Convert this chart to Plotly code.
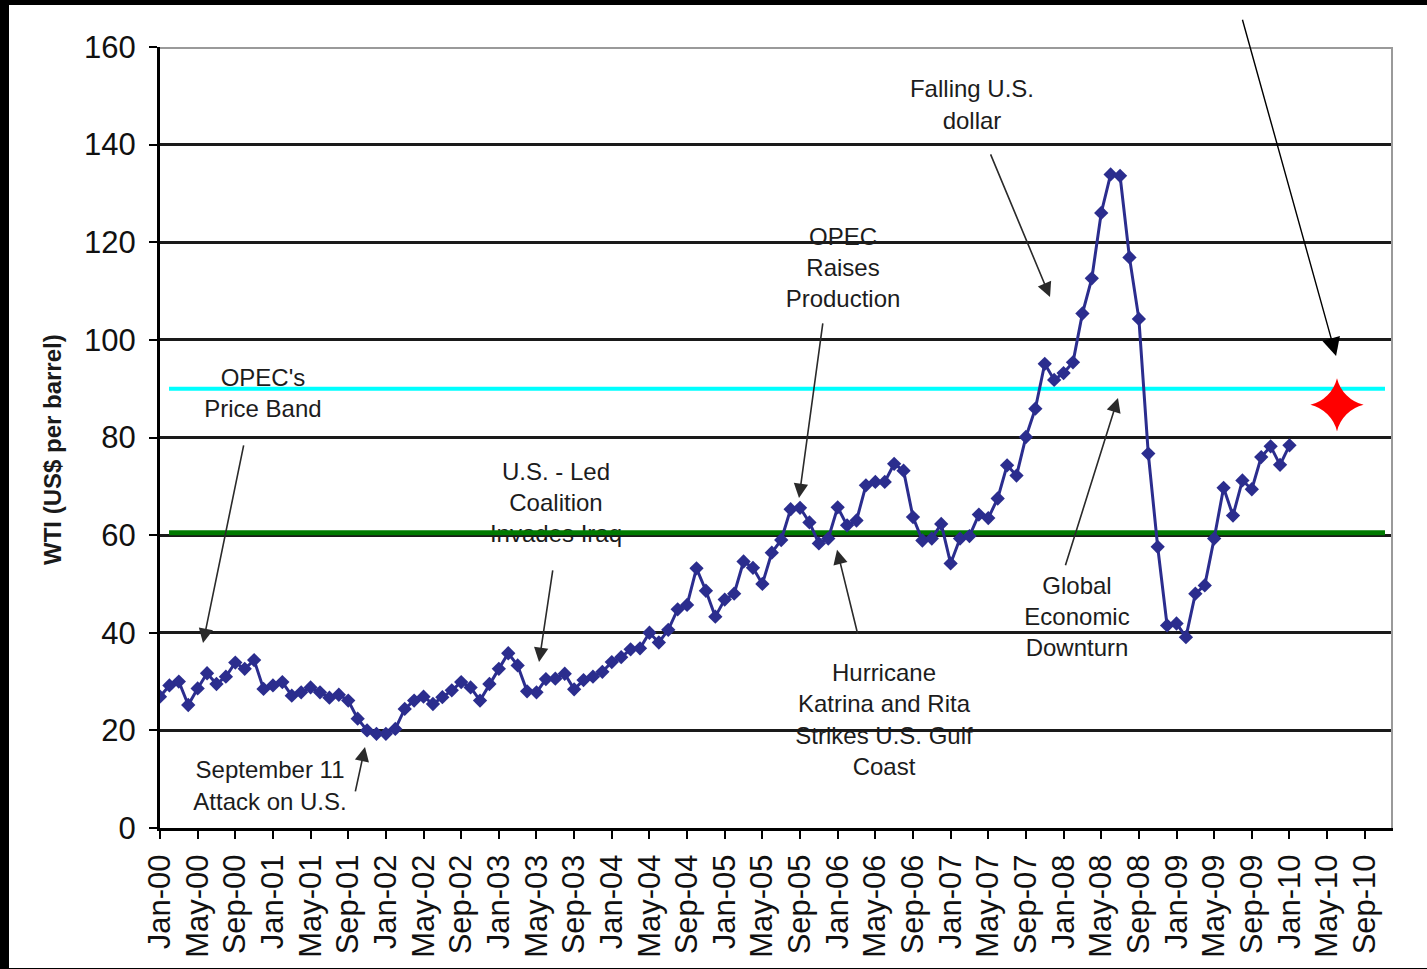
import plotly.graph_objects as go

# Monthly WTI spot price, US$ per barrel (Jan-2000 .. Jan-2010)
wti_2000 = [26.9, 29.2, 30.0, 25.2, 28.6, 31.7, 29.5, 31.0, 33.9, 32.6, 34.4, 28.5]
wti_2001 = [29.2, 29.9, 27.1, 27.8, 28.8, 27.8, 26.7, 27.3, 26.1, 22.4, 20.0, 19.3]
wti_2002 = [19.3, 20.3, 24.4, 26.1, 26.9, 25.4, 26.8, 28.2, 29.9, 28.8, 26.1, 29.5]
wti_2003 = [32.6, 35.8, 33.3, 28.0, 27.8, 30.5, 30.6, 31.6, 28.4, 30.3, 31.0, 32.0]
wti_2004 = [34.0, 35.0, 36.6, 36.8, 40.0, 38.0, 40.6, 44.8, 45.7, 53.2, 48.6, 43.3]
wti_2005 = [46.8, 48.0, 54.6, 53.3, 50.0, 56.4, 59.0, 65.3, 65.6, 62.6, 58.3, 59.3]
wti_2006 = [65.7, 62.0, 63.0, 70.2, 70.9, 70.9, 74.6, 73.2, 63.7, 58.9, 59.3, 62.3]
wti_2007 = [54.2, 59.3, 59.8, 64.2, 63.5, 67.5, 74.3, 72.2, 80.1, 85.9, 95.1, 91.8]
wti_2008 = [93.2, 95.4, 105.4, 112.6, 126.0, 133.9, 133.6, 116.9, 104.3, 76.7, 57.6, 41.5]
wti_2009 = [41.9, 39.1, 48.0, 49.7, 59.3, 69.7, 64.0, 71.2, 69.4, 76.0, 78.2, 74.4]
wti_2010 = [78.4]

prices = (wti_2000 + wti_2001 + wti_2002 + wti_2003 + wti_2004 + wti_2005
          + wti_2006 + wti_2007 + wti_2008 + wti_2009 + wti_2010)
months = list(range(len(prices)))  # month index, 0 = Jan-00

tick_labels = [
    "Jan-00", "May-00", "Sep-00", "Jan-01", "May-01", "Sep-01",
    "Jan-02", "May-02", "Sep-02", "Jan-03", "May-03", "Sep-03",
    "Jan-04", "May-04", "Sep-04", "Jan-05", "May-05", "Sep-05",
    "Jan-06", "May-06", "Sep-06", "Jan-07", "May-07", "Sep-07",
    "Jan-08", "May-08", "Sep-08", "Jan-09", "May-09", "Sep-09",
    "Jan-10", "May-10", "Sep-10",
]
tick_positions = [4 * k for k in range(len(tick_labels))]

# OPEC price band limits
band_upper = 90.0
band_lower = 60.5

# Event labels (month index, price) and their arrows (tail -> head)
event_text = [
    "OPEC's<br>Price Band",
    "U.S. - Led<br>Coalition<br>Invades Iraq",
    "September 11<br>Attack on U.S.",
    "OPEC<br>Raises<br>Production",
    "Hurricane<br>Katrina and Rita<br>Strikes U.S. Gulf<br>Coast",
    "Falling U.S.<br>dollar",
    "Global<br>Economic<br>Downturn",
]
event_x = [10.94, 42.07, 11.69, 72.57, 76.92, 86.27, 97.43]
event_y = [88.6, 66.2, 8.2, 114.3, 21.7, 147.7, 42.8]

arrow_tail_x = [8.92, 41.75, 20.72, 70.44, 74.16, 88.18, 96.15]
arrow_tail_y = [78.7, 53.1, 7.2, 103.7, 39.5, 138.3, 53.5]
arrow_head_x = [4.57, 40.27, 21.78, 67.89, 71.93, 94.56, 101.78]
arrow_head_y = [37.9, 34.0, 16.6, 67.6, 57.0, 108.8, 88.1]

# Forecast marker and its pointer
target_x = [125.05]
target_y = [86.7]
pointer_tail = (114.96, 165.9)
pointer_head = (124.95, 96.7)

X_MAX = 131
Y_MAX = 160

W, H = 1427, 969
ML, MR, MT, MB = 160, 34, 47, 141
PW, PH = W - ML - MR, H - MT - MB

FONT = "Liberation Sans, Arial, sans-serif"
NAVY = "#2B2D8E"


def paper_x(px):
    return (px - ML) / PW


def paper_y(py):
    return (H - MB - py) / PH


fig = go.Figure()

# event labels (drawn first so the band lines pass over them)
fig.add_trace(go.Scatter(
    x=event_x, y=event_y, mode="text", text=event_text,
    textposition="middle center",
    textfont=dict(family=FONT, size=24, color="#1c1c1c"),
    hoverinfo="skip", showlegend=False,
))

# price band lines
band_x = [0.96, 130.15]
fig.add_trace(go.Scatter(
    x=band_x, y=[band_upper, band_upper], mode="lines",
    line=dict(color="#00FFFF", width=4), hoverinfo="skip", showlegend=False,
))
fig.add_trace(go.Scatter(
    x=band_x, y=[band_lower, band_lower], mode="lines",
    line=dict(color="#007A00", width=5), hoverinfo="skip", showlegend=False,
))

# WTI price series
fig.add_trace(go.Scatter(
    x=months, y=prices, mode="lines+markers",
    line=dict(color=NAVY, width=3),
    marker=dict(symbol="diamond", size=11, color=NAVY),
    showlegend=False,
))

# forecast star
fig.add_trace(go.Scatter(
    x=target_x, y=target_y, mode="markers",
    marker=dict(symbol="star-diamond", size=38, color="#FF0000",
                line=dict(width=0)),
    hoverinfo="skip", showlegend=False, cliponaxis=False,
))

annotations = []
for tx, ty, hx, hy in zip(arrow_tail_x, arrow_tail_y, arrow_head_x, arrow_head_y):
    annotations.append(dict(
        x=hx, y=hy, ax=tx, ay=ty, xref="x", yref="y", axref="x", ayref="y",
        text="", showarrow=True, arrowhead=2, arrowsize=1.8, arrowwidth=1.6,
        arrowcolor="#2a2a2a", standoff=0,
    ))
annotations.append(dict(
    x=pointer_head[0], y=pointer_head[1], ax=pointer_tail[0], ay=pointer_tail[1],
    xref="x", yref="y", axref="x", ayref="y",
    text="", showarrow=True, arrowhead=2, arrowsize=2.6, arrowwidth=1.4,
    arrowcolor="#000000", standoff=0,
))
annotations.append(dict(
    x=paper_x(52), y=paper_y(450), xref="paper", yref="paper",
    text="<b>WTI (US$ per barrel)</b>", textangle=-90, showarrow=False,
    font=dict(family=FONT, size=24, color="#1a1a1a"),
    xanchor="center", yanchor="middle",
))

shapes = [
    # chart frame, top and right
    dict(type="line", xref="x", yref="y", x0=0, x1=X_MAX, y0=Y_MAX, y1=Y_MAX,
         line=dict(color="#9a9a9a", width=4), layer="above"),
    dict(type="line", xref="x", yref="y", x0=X_MAX, x1=X_MAX, y0=0, y1=Y_MAX,
         line=dict(color="#9a9a9a", width=4), layer="above"),
    # dark page edges
    dict(type="rect", xref="paper", yref="paper",
         x0=paper_x(0), x1=paper_x(W), y0=paper_y(0), y1=paper_y(5),
         fillcolor="black", line=dict(width=0), layer="above"),
    dict(type="rect", xref="paper", yref="paper",
         x0=paper_x(0), x1=paper_x(9), y0=paper_y(0), y1=paper_y(H),
         fillcolor="black", line=dict(width=0), layer="above"),
    dict(type="rect", xref="paper", yref="paper",
         x0=paper_x(0), x1=paper_x(W), y0=paper_y(H - 1), y1=paper_y(H),
         fillcolor="black", line=dict(width=0), layer="above"),
]

fig.update_layout(
    width=W, height=H,
    margin=dict(l=ML, r=MR, t=MT, b=MB, pad=0),
    paper_bgcolor="white", plot_bgcolor="white",
    font=dict(family=FONT, color="#111111"),
    annotations=annotations, shapes=shapes,
    xaxis=dict(
        range=[0, X_MAX], tickmode="array", tickvals=tick_positions,
        ticktext=tick_labels, tickangle=-90,
        tickfont=dict(family=FONT, size=31, color="#111111"),
        ticks="outside", ticklen=8, tickwidth=2, tickcolor="black",
        showgrid=False, zeroline=False,
        showline=True, linecolor="black", linewidth=3,
        ticklabelstandoff=3,
    ),
    yaxis=dict(
        range=[0, Y_MAX], tickmode="array", tickvals=list(range(0, 161, 20)),
        tickfont=dict(family=FONT, size=31, color="#111111"),
        ticks="outside", ticklen=8, tickwidth=2, tickcolor="black",
        showgrid=True, gridcolor="#1a1a1a", gridwidth=2.5,
        zeroline=False, showline=True, linecolor="black", linewidth=3,
        ticklabelstandoff=7,
    ),
)

fig.write_html("out.html")
